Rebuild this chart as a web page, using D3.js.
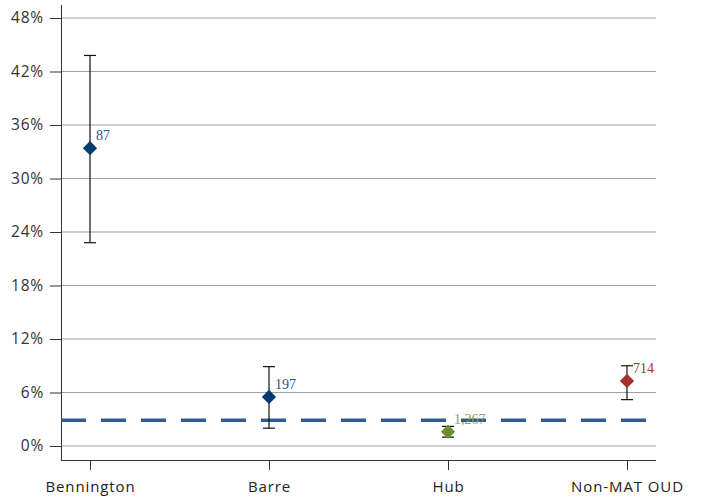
<!DOCTYPE html>
<html>
<head>
<meta charset="utf-8">
<script src="https://cdn.jsdelivr.net/npm/d3@7"></script>
<style>
  html, body { margin: 0; padding: 0; background: #fff; }
  svg { display: block; }
</style>
</head>
<body>
<svg id="chart" width="701" height="500"></svg>
<script>
// Rates by program, with confidence intervals and sample sizes
const categories = ["Bennington", "Barre", "Hub", "Non-MAT OUD"];
const rates      = [33.4, 5.5, 1.6, 7.3];
const lowerCI    = [22.8, 2.0, 1.0, 5.2];
const upperCI    = [43.8, 8.9, 2.2, 9.0];
const counts     = ["87", "197", "1,267", "714"];
const markerColors = ["#003a70", "#003a70", "#6b8e2f", "#a33030"];
const labelColors  = ["#2a5590", "#2a5590", "#8c9d5c", "#a33030"];
const referenceRate = 2.9;
const yTicks = [0, 6, 12, 18, 24, 30, 36, 42, 48];

(function draw() {
  const svg = d3.select("#chart");
  const plotLeft = 61, plotRight = 656, plotTop = 18, plotBottom = 446, axisY = 460;

  const x = d3.scalePoint().domain(categories).range([plotLeft, plotRight]).padding(0.162);
  const y = d3.scaleLinear().domain([0, 48]).range([plotBottom, plotTop]);

  // horizontal gridlines
  svg.append("g").selectAll("line").data(yTicks).join("line")
    .attr("x1", plotLeft).attr("x2", plotRight)
    .attr("y1", d => y(d)).attr("y2", d => y(d))
    .attr("stroke", "#a0a0a0").attr("stroke-width", 1);

  // y axis
  const yAxis = d3.axisLeft(y).tickValues(yTicks).tickFormat(d => d + "%").tickSize(11).tickPadding(6);
  const gy = svg.append("g").attr("transform", `translate(${plotLeft},0)`).call(yAxis);
  gy.select(".domain").remove();
  gy.selectAll(".tick line").attr("stroke", "#333");
  gy.selectAll(".tick text").attr("fill", "#333")
    .style("font-family", "'Open Sans', sans-serif").style("font-size", "15.5px")
    .style("letter-spacing", "0.8px");
  svg.append("line").attr("x1", plotLeft + 0.5).attr("x2", plotLeft + 0.5).attr("y1", 5).attr("y2", axisY)
    .attr("stroke", "#333").attr("stroke-width", 1);

  // x axis
  const xAxis = d3.axisBottom(x).tickSize(10).tickPadding(11);
  const gx = svg.append("g").attr("transform", `translate(0,${axisY})`).call(xAxis);
  gx.select(".domain").attr("d", `M${plotLeft},0.5H${plotRight}`).attr("stroke", "#333");
  gx.selectAll(".tick line").attr("stroke", "#333");
  gx.selectAll(".tick text").attr("fill", "#222")
    .style("font-family", "'Open Sans', sans-serif").style("font-size", "15px")
    .style("letter-spacing", "0.9px");

  // reference dashed line
  svg.append("line")
    .attr("x1", plotLeft).attr("x2", plotRight)
    .attr("y1", y(referenceRate)).attr("y2", y(referenceRate))
    .attr("stroke", "#2f5a92").attr("stroke-width", 3.5)
    .attr("stroke-dasharray", "25,15");

  const idx = d3.range(categories.length);

  // error bars
  const eb = svg.append("g").selectAll("g").data(idx).join("g");
  eb.append("line")
    .attr("x1", i => x(categories[i])).attr("x2", i => x(categories[i]))
    .attr("y1", i => y(upperCI[i])).attr("y2", i => y(lowerCI[i]))
    .attr("stroke", "#111").attr("stroke-width", 1.2);
  eb.append("line")
    .attr("x1", i => x(categories[i]) - 6).attr("x2", i => x(categories[i]) + 6)
    .attr("y1", i => y(upperCI[i])).attr("y2", i => y(upperCI[i]))
    .attr("stroke", "#111").attr("stroke-width", 1.2);
  eb.append("line")
    .attr("x1", i => x(categories[i]) - 6).attr("x2", i => x(categories[i]) + 6)
    .attr("y1", i => y(lowerCI[i])).attr("y2", i => y(lowerCI[i]))
    .attr("stroke", "#111").attr("stroke-width", 1.2);

  // diamond markers
  const diamond = d3.symbol().type(d3.symbolDiamond2).size(130);
  svg.append("g").selectAll("path").data(idx).join("path")
    .attr("d", diamond)
    .attr("transform", i => `translate(${x(categories[i])},${y(rates[i])})`)
    .attr("fill", i => markerColors[i]);

  // sample size labels
  svg.append("g").selectAll("text").data(idx).join("text")
    .attr("x", i => x(categories[i]) + 6)
    .attr("y", i => y(rates[i]) - 8)
    .attr("fill", i => labelColors[i])
    .style("font-family", "'Liberation Serif', serif")
    .style("font-size", "14px")
    .text(i => counts[i]);
})();
</script>
</body>
</html>
